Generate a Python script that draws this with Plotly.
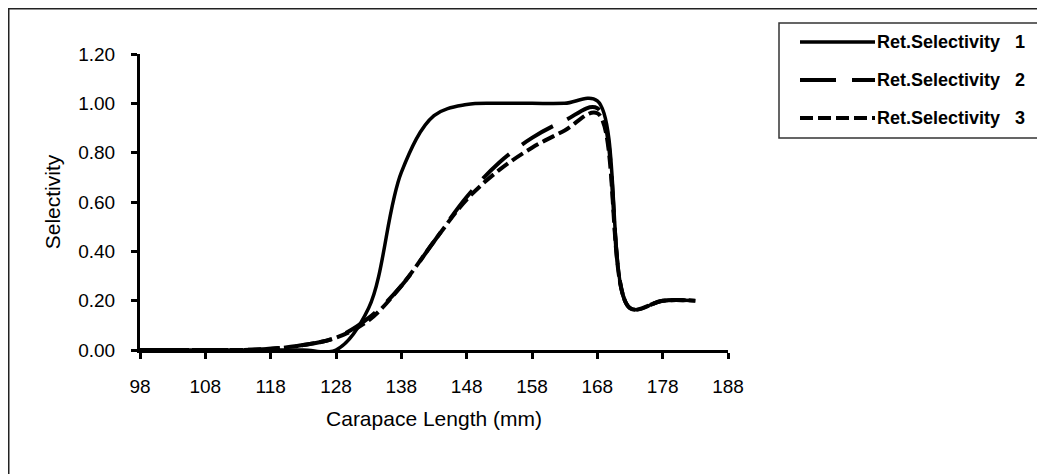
import plotly.graph_objects as go

# ---- data ----
carapace_length = [98, 103, 108, 113, 118, 123, 128, 133, 138, 143, 148, 153, 158, 163, 168, 173, 178, 183]
ret_sel_1 = [0, 0, 0, 0, 0, 0, 0.0, 0.17, 0.72, 0.95, 0.995, 1.0, 1.0, 1.0, 1.01, 0.17, 0.2, 0.2]
ret_sel_2 = [0, 0, 0, 0, 0.005, 0.02, 0.05, 0.13, 0.26, 0.44, 0.62, 0.76, 0.86, 0.93, 0.98, 0.17, 0.2, 0.2]
ret_sel_3 = [0, 0, 0, 0, 0.005, 0.02, 0.05, 0.12, 0.26, 0.44, 0.61, 0.73, 0.82, 0.89, 0.96, 0.17, 0.2, 0.2]
series_names = ["Ret.Selectivity  1", "Ret.Selectivity  2", "Ret.Selectivity  3"]
x_ticks = [98, 108, 118, 128, 138, 148, 158, 168, 178, 188]
y_ticks = [0, 0.2, 0.4, 0.6, 0.8, 1.0, 1.2]
y_tick_labels = ["0.00", "0.20", "0.40", "0.60", "0.80", "1.00", "1.20"]

FONT = "Liberation Sans, Arial, sans-serif"
dashes = ["solid", "36px,16px", "13px,5px"]
widths = [3.5, 4, 4]
series = [ret_sel_1, ret_sel_2, ret_sel_3]

fig = go.Figure()
for name, ys, d, w in zip(series_names, series, dashes, widths):
    fig.add_trace(go.Scatter(
        x=carapace_length, y=ys, name=name, mode="lines",
        line=dict(color="black", width=w, dash=d, shape="spline", smoothing=1),
        showlegend=False,
    ))

# page body has an 8px margin: work in page pixels and shift by OFF
OFF = 8
W, H = 1045 - OFF, 474 - OFF
L, R, T, B = 140 - OFF, 728 - OFF, 54 - OFF, 350 - OFF
def px(X):
    return (X - OFF - L) / (R - L)
def py(Y):
    return (B - (Y - OFF)) / (B - T)

shapes = []
annotations = []
# outer chart border (left and top visible)
shapes.append(dict(type="rect", xref="paper", yref="paper",
                   x0=px(OFF + 0.75), x1=px(1200), y0=py(700), y1=py(OFF + 0.75),
                   line=dict(color="#222222", width=1.5), layer="below"))
# legend box
shapes.append(dict(type="rect", xref="paper", yref="paper",
                   x0=px(779), x1=px(1041), y0=py(138), y1=py(23),
                   line=dict(color="#333333", width=1.5), fillcolor="white", layer="below"))
leg_y = [42, 80, 118]
for name, d, w, yy in zip(series_names, dashes, widths, leg_y):
    shapes.append(dict(type="line", xref="paper", yref="paper",
                       x0=px(800), x1=px(875), y0=py(yy), y1=py(yy),
                       line=dict(color="black", width=w, dash=d)))
    annotations.append(dict(xref="paper", yref="paper", x=px(875), y=py(yy),
                            text="<b>" + name.replace("  ", "&nbsp;&nbsp; ") + "</b>",
                            showarrow=False, xanchor="left", yanchor="middle",
                            font=dict(family=FONT, size=18, color="black")))

fig.update_layout(
    width=W, height=H,
    margin=dict(l=L, r=W - R, t=T, b=H - B, autoexpand=False),
    paper_bgcolor="white", plot_bgcolor="white",
    font=dict(family=FONT, size=19, color="black"),
    shapes=shapes, annotations=annotations,
    showlegend=False,
)
fig.update_xaxes(
    range=[98, 188], tickvals=x_ticks, ticktext=[str(t) for t in x_ticks],
    showgrid=False, zeroline=False, showline=True, linecolor="black", linewidth=3,
    ticks="outside", ticklen=6, tickwidth=3, tickcolor="black",
    ticklabelstandoff=11, tickfont=dict(family=FONT, size=19, color="black"),
    title=dict(text="Carapace Length (mm)", font=dict(family=FONT, size=21, color="black"), standoff=16),
    automargin=False,
)
fig.update_yaxes(
    range=[0, 1.2], tickvals=y_ticks, ticktext=y_tick_labels,
    showgrid=False, zeroline=False, showline=True, linecolor="black", linewidth=3,
    ticks="outside", ticklen=6, tickwidth=3, tickcolor="black",
    ticklabelstandoff=12, tickfont=dict(family=FONT, size=19, color="black"),
    title=dict(text="Selectivity", font=dict(family=FONT, size=21, color="black"), standoff=12),
    automargin=False,
)

fig.write_html("out.html")
